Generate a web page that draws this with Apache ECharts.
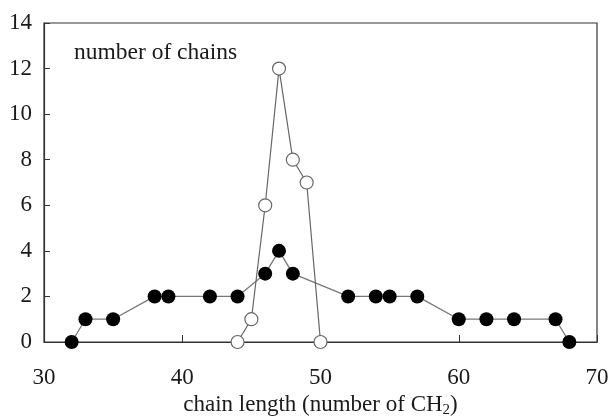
<!DOCTYPE html>
<html>
<head>
<meta charset="utf-8">
<script src="https://cdn.jsdelivr.net/npm/echarts@6/dist/echarts.min.js"></script>
<style>
  html, body { margin: 0; padding: 0; background: #fff; }
  #chart { width: 608px; height: 416px; }
</style>
</head>
<body>
<div id="chart"></div>
<script>
// Chain length distribution: two populations
const filledLengths = [32, 33, 35, 38, 39, 42, 44, 46, 47, 48, 52, 54, 55, 57, 60, 62, 64, 67, 68];
const filledCounts  = [0, 1, 1, 2, 2, 2, 2, 3, 4, 3, 2, 2, 2, 2, 1, 1, 1, 1, 0];
const openLengths = [44, 45, 46, 47, 48, 49, 50];
const openCounts  = [0, 1, 6, 12, 8, 7, 0];

const xTicks = [30, 40, 50, 60, 70];
const yTicks = [0, 2, 4, 6, 8, 10, 12, 14];

const pair = (xs, ys) => xs.map((x, i) => [x, ys[i]]);

const font = '"Liberation Serif", "Times New Roman", serif';
const axisColor = '#333';
const textColor = '#1a1a1a';

const chart = echarts.init(document.getElementById('chart'), null, { renderer: 'canvas' });
chart.setOption({
  animation: false,
  backgroundColor: '#fff',
  grid: {
    left: 44, right: 11, top: 23, bottom: 74,
    outerBoundsMode: 'none', containLabel: false,
    show: true, borderColor: axisColor, borderWidth: 1.2, backgroundColor: 'transparent'
  },
  title: {
    text: 'number of chains',
    left: 69, top: 36,
    textStyle: { fontFamily: font, fontSize: 23.5, fontWeight: 'normal', color: textColor }
  },
  xAxis: {
    type: 'value',
    min: xTicks[0], max: xTicks[xTicks.length - 1], interval: 10,
    splitLine: { show: false },
    axisLine: { lineStyle: { color: axisColor, width: 1.2 } },
    axisTick: { inside: true, length: 7, lineStyle: { color: axisColor } },
    axisLabel: { fontFamily: font, fontSize: 23, color: textColor, margin: 24 },
    name: '{n|chain length (number of CH}{s|2}{n|)}',
    nameLocation: 'middle', nameGap: 51,
    nameTextStyle: {
      rich: {
        n: { fontFamily: font, fontSize: 23, color: textColor },
        s: { fontFamily: font, fontSize: 15, color: textColor, verticalAlign: 'bottom', padding: [9, 0, 0, 0] }
      }
    }
  },
  yAxis: {
    type: 'value',
    min: yTicks[0], max: yTicks[yTicks.length - 1], interval: 2,
    splitLine: { show: false },
    axisLine: { show: true, lineStyle: { color: axisColor, width: 1.2 } },
    axisTick: { show: true, inside: true, length: 6, lineStyle: { color: axisColor } },
    axisLabel: { fontFamily: font, fontSize: 23, color: textColor, margin: 12 }
  },
  series: [
    {
      type: 'line',
      data: pair(filledLengths, filledCounts),
      symbol: 'circle', symbolSize: 14,
      lineStyle: { color: '#777', width: 1.3 },
      itemStyle: { color: '#000', borderColor: '#000', borderWidth: 0 },
      z: 3
    },
    {
      type: 'line',
      data: pair(openLengths, openCounts),
      symbol: 'circle', symbolSize: 13,
      lineStyle: { color: '#666', width: 1.2 },
      itemStyle: { color: '#fff', borderColor: '#666', borderWidth: 1.2 },
      z: 4
    }
  ]
});
</script>
</body>
</html>
